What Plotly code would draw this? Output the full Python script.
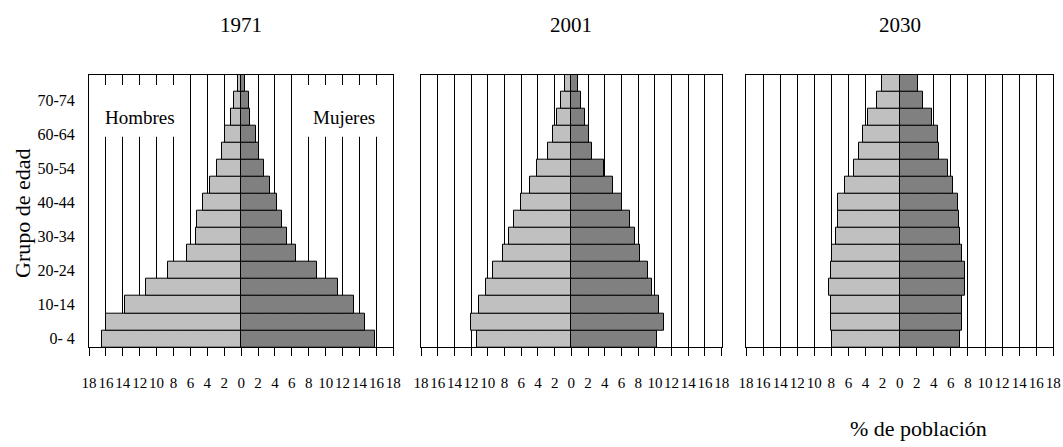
import plotly.graph_objects as go

age_groups = ["0- 4", "5-9", "10-14", "15-19", "20-24", "25-29", "30-34", "35-39",
              "40-44", "45-49", "50-54", "55-59", "60-64", "65-69", "70-74", "75+"]

years = ["1971", "2001", "2030"]

men_1971 = [16.5, 16.0, 13.7, 11.2, 8.7, 6.4, 5.4, 5.2, 4.5, 3.7, 2.9, 2.25, 1.9, 1.2, 0.8, 0.4]
women_1971 = [15.8, 14.7, 13.3, 11.5, 9.0, 6.5, 5.45, 4.8, 4.2, 3.4, 2.7, 2.1, 1.8, 1.1, 0.9, 0.4]

men_2001 = [11.35, 12.0, 11.1, 10.2, 9.4, 8.2, 7.5, 6.9, 6.0, 5.0, 4.1, 2.75, 2.15, 1.7, 1.2, 0.8]
women_2001 = [10.3, 11.15, 10.5, 9.7, 9.2, 8.2, 7.6, 7.0, 6.1, 5.0, 3.9, 2.5, 2.1, 1.6, 1.2, 0.85]

men_2030 = [7.9, 8.1, 8.1, 8.3, 8.1, 7.9, 7.5, 7.2, 7.2, 6.4, 5.3, 4.8, 4.3, 3.7, 2.65, 2.1]
women_2030 = [7.1, 7.3, 7.3, 7.6, 7.6, 7.3, 7.1, 6.9, 6.8, 6.3, 5.7, 4.6, 4.5, 3.8, 2.7, 2.2]

x_ticks = list(range(-18, 19, 2))
x_ticktext = [str(abs(v)) for v in x_ticks]

men_data = [men_1971, men_2001, men_2030]
women_data = [women_1971, women_2001, women_2030]

W, H = 1063, 447
panel_px = [(89, 393.3), (421, 721.7), (746, 1053.3)]
y_top_px, y_bot_px = 74.7, 347.3

FONT = "Liberation Serif"
MEN_COLOR = "#c0c0c0"
WOMEN_COLOR = "#808080"

fig = go.Figure()
positions = list(range(len(age_groups)))

for i, (yr, men, women) in enumerate(zip(years, men_data, women_data)):
    xa = "x" if i == 0 else f"x{i+1}"
    ya = "y" if i == 0 else f"y{i+1}"
    fig.add_trace(go.Bar(
        y=positions, x=[-v for v in men], orientation="h", xaxis=xa, yaxis=ya,
        marker=dict(color=MEN_COLOR, line=dict(color="black", width=1)),
        showlegend=False, name="Hombres"))
    fig.add_trace(go.Bar(
        y=positions, x=women, orientation="h", xaxis=xa, yaxis=ya,
        marker=dict(color=WOMEN_COLOR, line=dict(color="black", width=1)),
        showlegend=False, name="Mujeres"))

layout = dict(
    width=W, height=H,
    margin=dict(l=0, r=0, t=0, b=0, autoexpand=False),
    paper_bgcolor="white", plot_bgcolor="white",
    barmode="relative", bargap=0,
    font=dict(family=FONT, color="black"),
    showlegend=False,
)

for i in range(3):
    x0, x1 = panel_px[i]
    xkey = "xaxis" if i == 0 else f"xaxis{i+1}"
    ykey = "yaxis" if i == 0 else f"yaxis{i+1}"
    ya_anchor = "y" if i == 0 else f"y{i+1}"
    xa_anchor = "x" if i == 0 else f"x{i+1}"
    layout[xkey] = dict(
        domain=[x0 / W, x1 / W], anchor=ya_anchor, range=[-18, 18],
        tickvals=x_ticks, ticktext=x_ticktext, tickangle=0,
        showgrid=True, gridcolor="black", gridwidth=1,
        zeroline=True, zerolinecolor="black", zerolinewidth=1,
        showline=True, linecolor="black", linewidth=1, mirror=True,
        ticks="outside", ticklen=8, tickcolor="black", tickwidth=1,
        ticklabelstandoff=14, automargin=False,
        tickfont=dict(family=FONT, size=15, color="black"),
        fixedrange=True,
    )
    layout[ykey] = dict(
        domain=[1 - y_bot_px / H, 1 - y_top_px / H], anchor=xa_anchor,
        range=[-0.5, len(age_groups) - 0.5],
        showgrid=False, zeroline=False,
        showline=True, linecolor="black", linewidth=1, mirror=True,
        tickvals=positions[::2] if i == 0 else [],
        ticktext=age_groups[::2] if i == 0 else [],
        ticks="outside", ticklen=10, tickcolor="rgba(0,0,0,0)",
        showticklabels=(i == 0), automargin=False,
        tickfont=dict(family=FONT, size=16, color="black"),
        fixedrange=True,
    )

fig.update_layout(**layout)

# white boxes behind the sex labels (interrupt the gridlines)
fig.add_shape(type="rect", xref="x", yref="y", x0=-17.2, x1=-7.0, y0=11.86, y1=14.89,
              fillcolor="white", line=dict(width=0), layer="above")
fig.add_shape(type="rect", xref="x", yref="y", x0=7.0, x1=17.2, y0=11.86, y1=14.89,
              fillcolor="white", line=dict(width=0), layer="above")

fig.add_annotation(text="Hombres", x=-12.0, y=12.96, xref="x", yref="y",
                   showarrow=False, font=dict(family=FONT, size=19, color="black"))
fig.add_annotation(text="Mujeres", x=12.2, y=12.96, xref="x", yref="y",
                   showarrow=False, font=dict(family=FONT, size=19, color="black"))

# panel titles centred on each panel
for i, yr in enumerate(years):
    x0, x1 = panel_px[i]
    cx = (x0 + x1) / 2
    fig.add_annotation(text=yr, x=cx / W, y=1 - 25 / H, xref="paper", yref="paper",
                       showarrow=False, xanchor="center", yanchor="middle",
                       font=dict(family=FONT, size=21, color="black"))

fig.add_annotation(text="Grupo de edad", x=22 / W, y=1 - 213 / H, xref="paper", yref="paper",
                   showarrow=False, textangle=-90, xanchor="center", yanchor="middle",
                   font=dict(family=FONT, size=22, color="black"))
fig.add_annotation(text="% de población", x=918 / W, y=1 - 428 / H, xref="paper", yref="paper",
                   showarrow=False, xanchor="center", yanchor="middle",
                   font=dict(family=FONT, size=22, color="black"))

fig.write_html("out.html", config={"displayModeBar": False},
               post_script="document.body.style.margin='0px';document.body.style.overflow='hidden';")
